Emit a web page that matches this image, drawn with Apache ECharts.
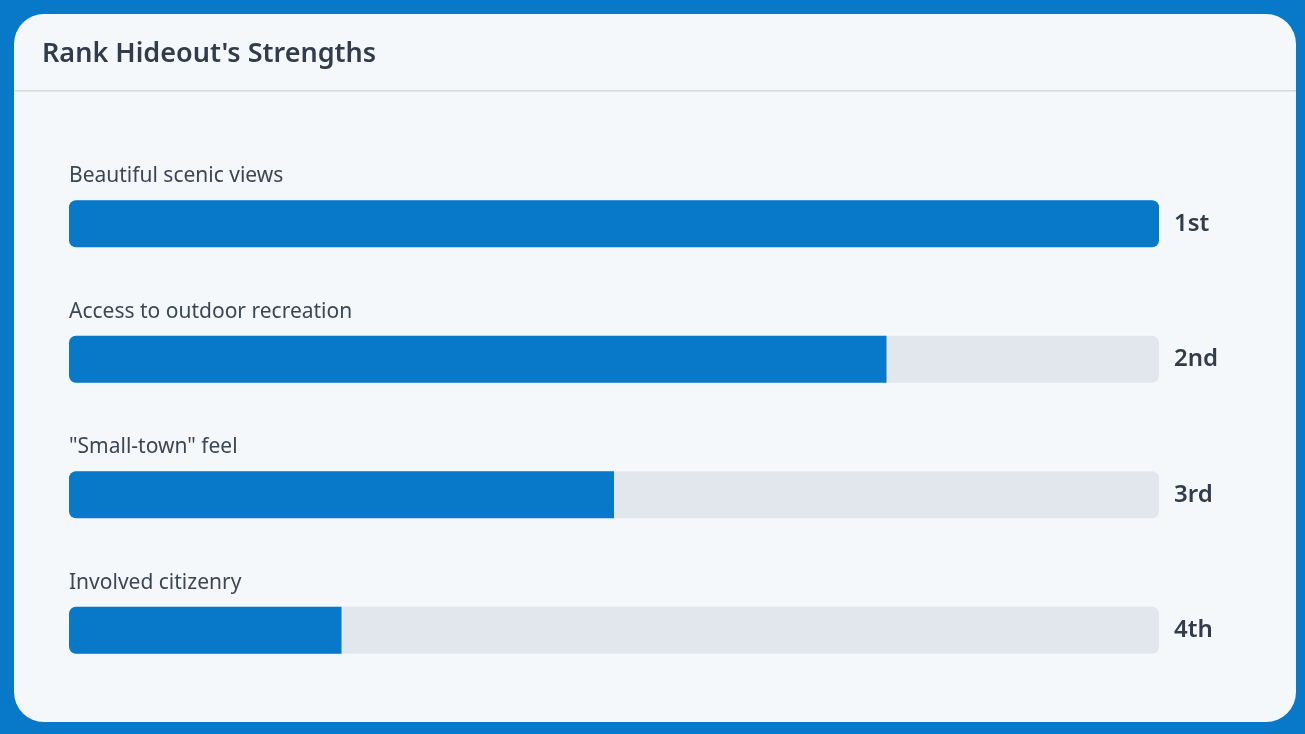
<!DOCTYPE html>
<html>
<head>
<meta charset="utf-8">
<script src="https://cdn.jsdelivr.net/npm/echarts@6/dist/echarts.min.js"></script>
<style>
  html, body { margin: 0; padding: 0; background: #0a77c8; }
  #chart { width: 1305px; height: 734px; }
</style>
</head>
<body>
<div id="chart"></div>
<script>
// Strengths ranked by residents; longer bar = higher rank
const categories = ['Beautiful scenic views', 'Access to outdoor recreation', '"Small-town" feel', 'Involved citizenry'];
const scores = [4, 3, 2, 1];
const rankLabels = ['1st', '2nd', '3rd', '4th'];
const maxScore = 4;

const FONT = '"Noto Sans", "Open Sans", sans-serif';
const BLUE = '#0878c9';

const chart = echarts.init(document.getElementById('chart'));
chart.setOption({
  backgroundColor: BLUE,
  animation: false,
  graphic: [
    {
      type: 'rect', left: 14, top: 14, z: -10,
      shape: { width: 1282, height: 708, r: 30 },
      style: { fill: '#f5f8fb' }
    },
    {
      type: 'rect', left: 14, top: 90, z: -9,
      shape: { width: 1282, height: 1.5 },
      style: { fill: '#d5dae0' }
    }
  ],
  title: {
    text: "Rank Hideout's Strengths",
    left: 37, top: 36,
    textStyle: { fontFamily: FONT, fontSize: 27, fontWeight: 600, color: '#323c4a' }
  },
  grid: { left: 69, right: 146, top: 156, bottom: 36 },
  xAxis: { type: 'value', min: 0, max: maxScore, show: false },
  yAxis: [
    { type: 'category', data: categories, inverse: true, show: false },
    {
      type: 'category', data: rankLabels, inverse: true, position: 'right',
      axisLine: { show: false }, axisTick: { show: false },
      axisLabel: { margin: 15, fontFamily: FONT, fontSize: 24, fontWeight: 600, color: '#323c4a', padding: [4, 0, 0, 0] }
    }
  ],
  series: [{
    type: 'bar',
    barWidth: 47,
    showBackground: true,
    backgroundStyle: { color: '#e2e7ed', borderRadius: 7 },
    data: scores.map(v => ({
      value: v,
      itemStyle: { color: BLUE, borderRadius: v >= maxScore ? 7 : [7, 0, 0, 7] }
    })),
    label: {
      show: true,
      formatter: '{b}',
      position: [0, -24],
      align: 'left', verticalAlign: 'middle',
      fontFamily: FONT, fontSize: 21, color: '#3d4654'
    }
  }]
});
</script>
</body>
</html>
